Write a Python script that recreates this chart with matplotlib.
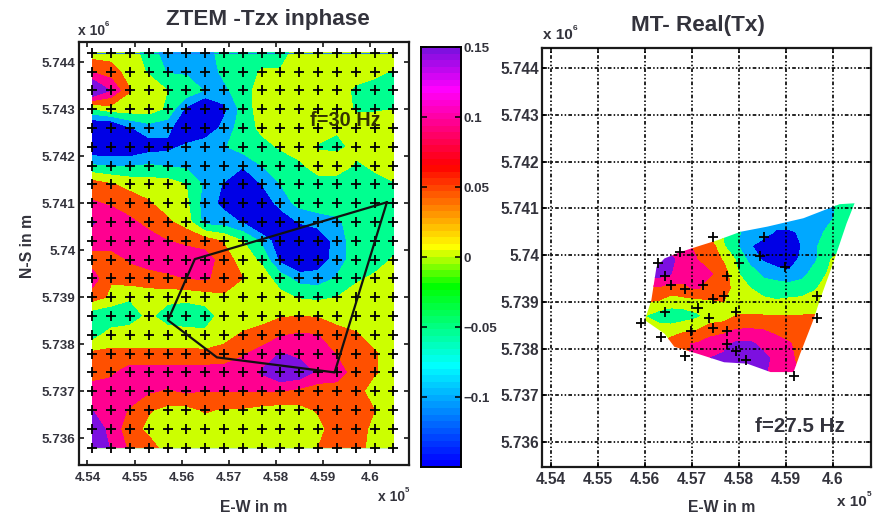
import numpy as np
import matplotlib
matplotlib.use('Agg')
import matplotlib.pyplot as plt
from matplotlib.colors import LinearSegmentedColormap
from matplotlib.patches import Polygon

plt.rcParams.update({
    'font.family': 'sans-serif',
    'font.sans-serif': ['Liberation Sans'],
    'font.weight': 'bold',
})

W, H = 883, 515

# band index: 0 blue, 1 sky, 2 spring, 3 yellow, 4 orange, 5 magenta, 6 purple
band_colors = ['#0000e6', '#00a8ff', '#00ff90', '#ccff00', '#ff5000', '#ff0090', '#7c10e0']
band_levels = [-3, 0.5, 1.5, 2.5, 3.5, 4.5, 5.5, 9]

# ZTEM grid, rows from north to south
ztem_e = [4.541 + 0.004 * i for i in range(17)]
ztem_n = [5.7442 - 0.0004 * i for i in range(22)]
ztem_tzx = [
    [3, 3, 3, 2, 1, 1, 1, 2, 2, 2, 2, 3, 3, 3, 3, 3, 3],
    [4.4, 4, 3, 2.4, 1.4, 1.3, 1, 1.7, 2, 2.6, 2.6, 3, 3, 3, 3, 2.8, 2.4],
    [7, 5.4, 3.55, 3, 2.5, 2.3, 1.4, 1.3, 2, 3, 3, 3, 3, 3, 2.3, 2, 2],
    [2.4, 3, 3, 3, 2.3, 0.2, -1, 0.2, 1.9, 3, 3, 3, 3, 3, 2.4, 2.4, 2.5],
    [-1, -1, 0.4, 1, 0.8, -0.5, -0.5, 0.9, 2, 2.7, 3, 3, 3, 2.6, 3, 3, 3],
    [-0.5, -0.5, -0.5, 0, 0.2, 0.7, 1.3, 1.4, 2, 2.2, 2.6, 3, 2.4, 2.3, 2.7, 3, 3],
    [1.6, 1.4, 1.4, 1.6, 1.4, 1.3, 1.2, 1.2, 0.6, 1.5, 2, 2.3, 3, 3, 2.4, 2.6, 3],
    [4, 3.6, 3.2, 3, 3, 2.5, 1.3, 0.4, -0.5, 0.5, 1.5, 2, 2, 2, 2, 2.3, 2.4],
    [4.6, 4.4, 4, 3.6, 3, 2.7, 1, 0.2, -1, -0.5, 1, 1.8, 2, 2, 2, 2, 2],
    [5.6, 5, 4.7, 4.2, 3.7, 3, 1.1, 1, 0.4, -1, -0.5, 0.6, 1, 1.3, 2, 2, 2],
    [5, 5, 5, 4.9, 4.5, 4.3, 4, 3.4, 2.5, 1.3, -0.3, -1, -0.5, 1, 2, 2, 2],
    [4, 4, 4.6, 5, 5, 5, 5, 4, 3, 2.3, 0.2, -0.8, -0.2, 1, 2, 2, 2.6],
    [5, 3.6, 4, 4, 4.3, 4.5, 4.6, 4.2, 3.5, 3, 2, 1.1, 1, 1.6, 2.3, 2.7, 3],
    [4, 3.3, 2.6, 3, 2.8, 2.8, 3, 3.3, 3.4, 3, 2.8, 2.4, 2.3, 2.5, 3, 3, 3],
    [1.8, 1.6, 2, 2.7, 2, 1.7, 1.9, 3, 3, 3, 3.4, 3.5, 3.4, 3, 3, 3, 3],
    [2, 3, 3, 3, 3, 3, 2.8, 3.2, 3.6, 4, 4.4, 4.6, 4.5, 4, 3.6, 3.1, 3],
    [3.7, 3.7, 3.7, 3.7, 3.7, 3.7, 3.7, 3.8, 4.4, 4.8, 5.55, 5.2, 5.2, 4.4, 4, 3.6, 3],
    [4, 4.3, 5, 5, 5, 5, 5, 5, 5, 5.6, 6.5, 6.2, 5.2, 5, 4, 3.6, 3],
    [5, 5, 5, 4.6, 4.4, 4.6, 4.5, 4.5, 4.5, 4.5, 4.5, 4.2, 4, 4, 3.9, 3, 3],
    [5.5, 5, 4.4, 3.6, 3.2, 3.2, 3.6, 3.4, 3.4, 3.2, 3.1, 3.2, 3.6, 4, 4, 3.5, 3],
    [6.5, 5, 4, 3.2, 3, 3, 3, 3, 3, 3, 3, 3, 3.2, 4, 4, 3.2, 3],
    [6.5, 5.4, 4.3, 4, 3, 3, 3, 3, 3, 3, 3, 3, 3.5, 4, 4, 3, 3],
]
outline_e = [4.6036, 4.5925, 4.5675, 4.5571, 4.5628, 4.6036]
outline_n = [5.74102, 5.73740, 5.73772, 5.73851, 5.73981, 5.74102]

# MT grid, rows from north to south
mt_e = [4.56 + 0.0028 * i for i in range(17)]
mt_n = [5.7411 - 0.0003 * i for i in range(13)]
mt_tx = [
    [2, 2, 2, 2, 2, 2, 2, 2, 2, 2, 2, 2, 2, 2, 1.2, 1.8, 2],
    [3, 3, 3, 3, 3, 3, 2.4, 1.6, 1, 1, 1, 1, 1, 1, 1.2, 2, 2],
    [3, 3, 3, 3, 3, 3, 2.4, 1.7, 1, 1, 0.4, 0.4, 0.6, 1, 1.8, 2, 2],
    [5, 5, 5, 5, 4, 4, 2.55, 1.6, 0.6, 0, 0, 0, 0.55, 1.4, 2, 2.4, 3],
    [6, 6, 5.7, 5, 4.5, 4, 3.4, 2.4, 1.2, 0.4, 0, 0, 0.8, 1.4, 2.4, 3, 3],
    [6, 5.9, 5.5, 4.7, 5, 4.6, 4, 2.6, 2, 1.3, 1, 0.7, 1.2, 2, 2.6, 3, 3],
    [4, 4.4, 4, 4.4, 4.6, 3.9, 4, 3, 2.5, 2, 2, 2, 2, 2.4, 3, 3, 3],
    [3.5, 3.4, 3, 3, 3.2, 3.4, 3.5, 3, 3, 2.8, 2.6, 2.7, 2.8, 3, 3, 3, 3],
    [2.5, 2, 1.8, 2, 2.3, 2.9, 3, 3.55, 3.55, 3.55, 3.55, 3.55, 3.55, 3.55, 3.6, 3.6, 3.6],
    [3, 3, 3, 3.3, 3.5, 4, 4.2, 4.55, 4.6, 4.5, 4.2, 4, 4, 4, 4, 4, 4],
    [3, 3.2, 4, 4.4, 4.6, 5, 5.2, 5.7, 5.7, 5.2, 5, 4.6, 4, 4, 4, 4, 4],
    [4, 4, 4, 4.4, 4.7, 5.5, 5.7, 6, 6, 5.8, 5.2, 4.8, 4, 4, 4, 4, 4],
    [5, 5, 5, 5, 5, 5, 5.7, 6, 6, 5.7, 5, 5, 4.2, 4, 4, 4, 4],
]
mt_edge_e = [4.5600, 4.5614, 4.5625, 4.5642, 4.5677, 4.5720, 4.5755, 4.5804, 4.5861, 4.5938, 4.6015, 4.6047,
             4.6030, 4.6001, 4.5973, 4.5959, 4.5931, 4.5917, 4.5868, 4.5818, 4.5769, 4.5713, 4.5663, 4.5642]
mt_edge_n = [5.73861, 5.73904, 5.73975, 5.73993, 5.74007, 5.74021, 5.74032, 5.74050, 5.74061, 5.74079, 5.74109, 5.74111,
             5.74068, 5.73982, 5.73904, 5.73861, 5.73789, 5.73750, 5.73750, 5.73768, 5.73771, 5.73789, 5.73804, 5.73832]
stations_e = [4.5746, 4.5675, 4.5628, 4.5644, 4.5656, 4.5685, 4.5725, 4.5775, 4.5801, 4.5854, 4.5845, 4.5898, 4.5968, 4.5968, 4.5768,
              4.5746, 4.5714, 4.5794, 4.5644, 4.5593, 4.5736, 4.5746, 4.5699, 4.5775, 4.5635, 4.5775, 4.5794, 4.5685, 4.5815, 4.5918]
stations_n = [5.74038, 5.74007, 5.73984, 5.73955, 5.73936, 5.73927, 5.73936, 5.73955, 5.73984, 5.74038, 5.73999, 5.73975, 5.73913, 5.73865, 5.73913,
              5.73907, 5.73888, 5.73879, 5.73879, 5.73856, 5.73866, 5.73844, 5.73837, 5.73837, 5.73826, 5.73809, 5.73795, 5.73784, 5.73776, 5.73741]

xticks = [4.54, 4.55, 4.56, 4.57, 4.58, 4.59, 4.6]
xticklabels = ['4.54', '4.55', '4.56', '4.57', '4.58', '4.59', '4.6']
yticks = [5.736, 5.737, 5.738, 5.739, 5.74, 5.741, 5.742, 5.743, 5.744]
yticklabels = ['5.736', '5.737', '5.738', '5.739', '5.74', '5.741', '5.742', '5.743', '5.744']
cbar_ticks = [-0.1, -0.05, 0, 0.05, 0.1, 0.15]
cbar_labels = ['\u22120.1', '\u22120.05', '0', '0.05', '0.1', '0.15']
cbar_stops = [0, 0.238, 0.43, 0.524, 0.72, 0.905, 1]
cbar_stop_colors = ['#0000ff', '#00ffff', '#00ff00', '#ffff00', '#ff0000', '#ff00ff', '#7f10e0']

TEXT = '#33333c'


def px_axes(fig, left, top, right, bottom):
    return fig.add_axes([left / W, 1 - bottom / H, (right - left) / W, (bottom - top) / H])


def px_text(fig, x, y, s, **kw):
    kw.setdefault('ha', 'center')
    kw.setdefault('va', 'center')
    kw.setdefault('color', TEXT)
    return fig.text(x / W, 1 - y / H, s, **kw)


def style_axes(ax, tick_size, ypad, xpad):
    ax.set_xticks(xticks)
    ax.set_xticklabels(xticklabels)
    ax.set_yticks(yticks)
    ax.set_yticklabels(yticklabels)
    ax.tick_params(axis='both', direction='in', top=True, right=True, length=3.5, width=1.1,
                   labelsize=tick_size, labelcolor=TEXT)
    ax.tick_params(axis='y', pad=ypad)
    ax.tick_params(axis='x', pad=xpad)
    for sp in ax.spines.values():
        sp.set_linewidth(1.6)
        sp.set_color('#1a1a1a')


fig = plt.figure(figsize=(W / 100, H / 100), dpi=100)

# ZTEM panel
ax1 = px_axes(fig, 79, 42, 409, 465)
ax1.contourf(ztem_e, ztem_n, ztem_tzx, levels=band_levels, colors=band_colors)
ax1.plot([ztem_e[0], ztem_e[-1]], [ztem_n[0], ztem_n[0]], color='#1f7fff', lw=0.8)
ax1.plot([ztem_e[0], ztem_e[-1]], [ztem_n[-1], ztem_n[-1]], color='#c4f0b8', lw=0.8)
grid_e, grid_n = np.meshgrid(ztem_e, ztem_n)
ax1.plot(grid_e.ravel(), grid_n.ravel(), '+', color='black', ms=6.8, mew=1.3)
ax1.plot(outline_e, outline_n, color='#111111', lw=1.6)
ax1.set_xlim(4.5382, 4.6083)
ax1.set_ylim(5.73543, 5.74443)
style_axes(ax1, 9.6, 2.5, 5)

# MT panel
ax2 = px_axes(fig, 542, 48, 871, 467)
cs = ax2.contourf(mt_e, mt_n, mt_tx, levels=band_levels, colors=band_colors)
edge = Polygon(np.column_stack([mt_edge_e, mt_edge_n]), closed=True, transform=ax2.transData,
               facecolor='none', edgecolor='none')
ax2.add_patch(edge)
cs.set_clip_path(edge)
ax2.plot(stations_e, stations_n, '+', color='black', ms=7.4, mew=1.3, zorder=5)
ax2.set_xlim(4.5381, 4.6082)
ax2.set_ylim(5.73547, 5.74443)
ax2.set_axisbelow(False)
ax2.grid(True, color='black', lw=1.2, linestyle=(0, (2.2, 1.3, 0.9, 1.3, 0.9, 1.3)))
style_axes(ax2, 11.2, 2, 3.5)

# colour bar
cax = px_axes(fig, 421, 47, 461, 467)
bar_cmap = LinearSegmentedColormap.from_list('bar', list(zip(cbar_stops, cbar_stop_colors)), N=64)
cax.imshow(np.linspace(0, 1, 64).reshape(-1, 1), cmap=bar_cmap, origin='lower', aspect='auto',
           extent=[0, 1, -0.15, 0.15])
cax.set_xticks([])
cax.yaxis.tick_right()
cax.set_yticks(cbar_ticks)
cax.set_yticklabels(cbar_labels)
cax.tick_params(axis='y', direction='in', right=True, left=True, length=4, width=1.1,
                labelsize=9.6, labelcolor=TEXT, pad=2)
for sp in cax.spines.values():
    sp.set_linewidth(1.4)

# titles, labels
px_text(fig, 268, 19, 'ZTEM -Tzx inphase', fontsize=16.2)
px_text(fig, 698, 26, 'MT- Real(Tx)', fontsize=16.2)
px_text(fig, 254, 507, 'E-W in m', fontsize=11.3)
px_text(fig, 722, 507, 'E-W in m', fontsize=11.3)
px_text(fig, 28, 246, 'N-S in m', fontsize=11.3, rotation=90)
px_text(fig, 345, 120, 'f=30 Hz', fontsize=14.3, color='#333300')
px_text(fig, 800, 426, 'f=27.5 Hz', fontsize=14.8)

# axis multipliers
px_text(fig, 78, 31, 'x 10', fontsize=10, ha='left')
px_text(fig, 105, 25, '6', fontsize=5.5, ha='left')
px_text(fig, 378, 497, 'x 10', fontsize=10, ha='left')
px_text(fig, 405, 491, '5', fontsize=5.5, ha='left')
px_text(fig, 543, 35, 'x 10', fontsize=11, ha='left')
px_text(fig, 573, 28, '6', fontsize=6, ha='left')
px_text(fig, 837, 502, 'x 10', fontsize=11, ha='left')
px_text(fig, 867, 495, '5', fontsize=6, ha='left')

fig.savefig('out.png', dpi=100)
plt.close(fig)
